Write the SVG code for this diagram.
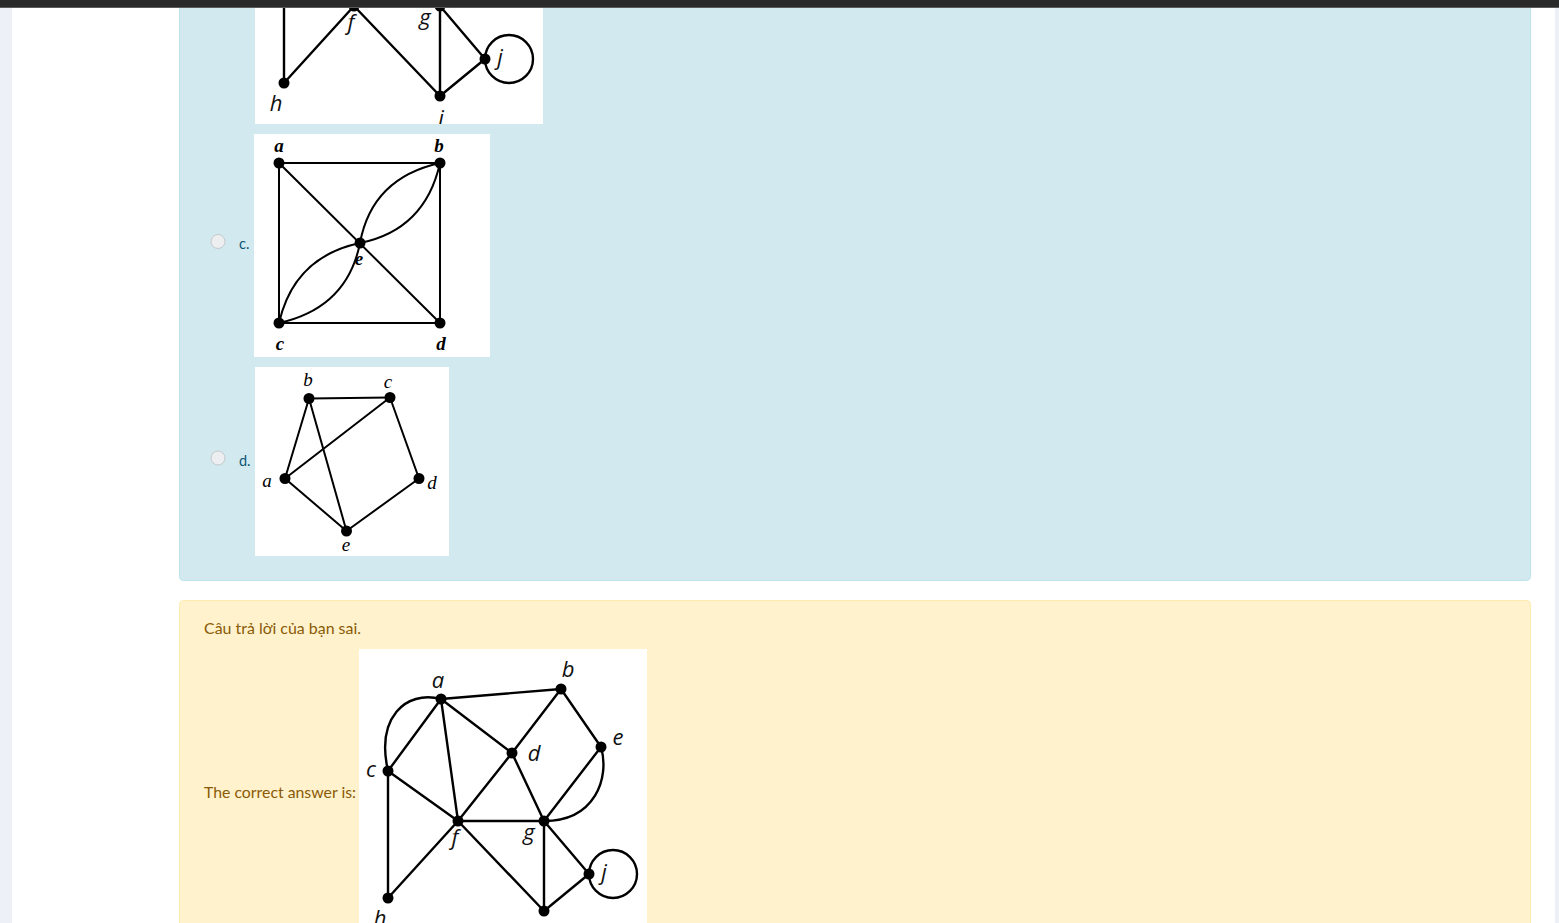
<svg xmlns="http://www.w3.org/2000/svg" xmlns:xlink="http://www.w3.org/1999/xlink" width="1559" height="923" viewBox="0 0 1559 923">
<style>
.ed{stroke:#000;stroke-width:2.4;fill:none;stroke-linecap:round}
.ed2{stroke:#000;stroke-width:2;fill:none;stroke-linecap:round}
.dot{fill:#000}
.lj{font-family:"Open Sans","Liberation Sans",sans-serif;font-style:italic;font-size:22px;fill:#111;text-anchor:middle}
.lc{font-family:"Liberation Serif",serif;font-style:italic;font-weight:bold;font-size:19px;fill:#000;text-anchor:middle}
.ld{font-family:"Liberation Serif",serif;font-style:italic;font-size:19px;fill:#000;text-anchor:middle}
.opt{font-family:Lato,"Liberation Sans",sans-serif;font-size:14.5px;fill:#0b5373}
.msg{font-family:Lato,"Liberation Sans",sans-serif;font-size:15px;fill:#8a5a06}
.radio{fill:#eceef0;stroke:#c4c8cc;stroke-width:1}
</style>
<defs>
<clipPath id="topclip"><rect x="255" y="0" width="288" height="124"/></clipPath>
</defs>
<!-- page background -->
<rect x="0" y="0" width="1559" height="923" fill="#fff"/>
<rect x="0" y="0" width="12" height="923" fill="#eef0f8"/>
<rect x="1555" y="0" width="4" height="923" fill="#eef0f8"/>
<!-- info panel -->
<rect x="179.5" y="-20" width="1351" height="600.5" rx="4" fill="#d2eaef" stroke="#bee3ea" stroke-width="1"/>
<!-- warning panel -->
<rect x="179.5" y="600.5" width="1351" height="340" rx="4" fill="#fff2cc" stroke="#ffebb0" stroke-width="1"/>

<!-- top cropped image (option b remainder) -->
<g id="option-b-image">
<rect x="255" y="0" width="288" height="124" fill="#fff"/>
<g clip-path="url(#topclip)">
<use xlink:href="#answer-graph" transform="translate(-104,-815)"/>
</g>
</g>

<!-- option c -->
<g id="option-c">
<circle class="radio" cx="218" cy="241.5" r="7"/>
<text class="opt" x="239" y="249">c.</text>
<rect x="254" y="134" width="236" height="223" fill="#fff"/>
<g id="c-edges">
<line class="ed2" x1="279" y1="163" x2="440" y2="163"/>
<line class="ed2" x1="279" y1="163" x2="279" y2="323"/>
<line class="ed2" x1="440" y1="163" x2="440" y2="323"/>
<line class="ed2" x1="279" y1="323" x2="440" y2="323"/>
<line class="ed2" x1="279" y1="163" x2="440" y2="323"/>
<path class="ed2" d="M360,243 Q372,178 440,163"/>
<path class="ed2" d="M360,243 Q425,230 440,163"/>
<path class="ed2" d="M279,323 Q294,257 360,243"/>
<path class="ed2" d="M279,323 Q347,308 360,243"/>
</g>
<g id="c-node-a"><circle class="dot" cx="279" cy="163" r="5.5"/><text class="lc" x="279" y="152">a</text></g>
<g id="c-node-b"><circle class="dot" cx="440" cy="163" r="5.5"/><text class="lc" x="439" y="152">b</text></g>
<g id="c-node-e"><circle class="dot" cx="360" cy="243" r="5.5"/><text class="lc" x="359" y="265">e</text></g>
<g id="c-node-c"><circle class="dot" cx="279" cy="323" r="5.5"/><text class="lc" x="280" y="350">c</text></g>
<g id="c-node-d"><circle class="dot" cx="440" cy="323" r="5.5"/><text class="lc" x="441" y="350">d</text></g>
</g>

<!-- option d -->
<g id="option-d">
<circle class="radio" cx="218" cy="458" r="7"/>
<text class="opt" x="239" y="466">d.</text>
<rect x="255" y="367" width="194" height="189" fill="#fff"/>
<g id="d-edges">
<line class="ed2" x1="309" y1="398.5" x2="390" y2="397.5"/>
<line class="ed2" x1="309" y1="398.5" x2="285" y2="478.5"/>
<line class="ed2" x1="309" y1="398.5" x2="346.5" y2="531"/>
<line class="ed2" x1="285" y1="478.5" x2="390" y2="397.5"/>
<line class="ed2" x1="390" y1="397.5" x2="419" y2="478.5"/>
<line class="ed2" x1="419" y1="478.5" x2="346.5" y2="531"/>
<line class="ed2" x1="285" y1="478.5" x2="346.5" y2="531"/>
</g>
<g id="d-node-b"><circle class="dot" cx="309" cy="398.5" r="5.5"/><text class="ld" x="308" y="386">b</text></g>
<g id="d-node-c"><circle class="dot" cx="390" cy="397.5" r="5.5"/><text class="ld" x="388" y="388">c</text></g>
<g id="d-node-a"><circle class="dot" cx="285" cy="478.5" r="5.5"/><text class="ld" x="267" y="487">a</text></g>
<g id="d-node-d"><circle class="dot" cx="419" cy="478.5" r="5.5"/><text class="ld" x="432" y="489">d</text></g>
<g id="d-node-e"><circle class="dot" cx="346.5" cy="531" r="5.5"/><text class="ld" x="346" y="551">e</text></g>
</g>

<!-- feedback -->
<text class="msg" x="204" y="634" textLength="157" lengthAdjust="spacingAndGlyphs">Câu trả lời của bạn sai.</text>
<text class="msg" x="204" y="798" textLength="152" lengthAdjust="spacingAndGlyphs">The correct answer is:</text>
<rect x="359" y="649" width="288" height="290" fill="#fff"/>

<g id="answer-graph">
<g id="answer-edges">
<line class="ed" x1="441" y1="699" x2="561" y2="689"/>
<line class="ed" x1="441" y1="699" x2="388" y2="771"/>
<path class="ed" d="M441,699 C405,690 376,718 388,771"/>
<line class="ed" x1="441" y1="699" x2="458" y2="821"/>
<line class="ed" x1="441" y1="699" x2="512" y2="753"/>
<line class="ed" x1="561" y1="689" x2="512" y2="753"/>
<line class="ed" x1="561" y1="689" x2="601" y2="747"/>
<line class="ed" x1="388" y1="771" x2="458" y2="821"/>
<line class="ed" x1="388" y1="771" x2="388" y2="898"/>
<line class="ed" x1="512" y1="753" x2="458" y2="821"/>
<line class="ed" x1="512" y1="753" x2="544" y2="821"/>
<line class="ed" x1="601" y1="747" x2="544" y2="821"/>
<path class="ed" d="M601,747 C610,778 595,821 544,821"/>
<line class="ed" x1="458" y1="821" x2="544" y2="821"/>
<line class="ed" x1="458" y1="821" x2="388" y2="898"/>
<line class="ed" x1="458" y1="821" x2="544" y2="911"/>
<line class="ed" x1="544" y1="821" x2="544" y2="911"/>
<line class="ed" x1="544" y1="821" x2="589" y2="874"/>
<line class="ed" x1="544" y1="911" x2="589" y2="874"/>
<circle class="ed" cx="613" cy="874" r="24"/>
</g>
<g id="node-a"><circle class="dot" cx="441" cy="699" r="5.5"/><text class="lj" x="438" y="688">a</text></g>
<g id="node-b"><circle class="dot" cx="561" cy="689" r="5.5"/><text class="lj" x="568" y="677">b</text></g>
<g id="node-c"><circle class="dot" cx="388" cy="771" r="5.5"/><text class="lj" x="371" y="777">c</text></g>
<g id="node-d"><circle class="dot" cx="512" cy="753" r="5.5"/><text class="lj" x="534" y="761">d</text></g>
<g id="node-e"><circle class="dot" cx="601" cy="747" r="5.5"/><text class="lj" x="618" y="745">e</text></g>
<g id="node-f"><circle class="dot" cx="458" cy="821" r="5.5"/><text class="lj" x="455" y="845">f</text></g>
<g id="node-g"><circle class="dot" cx="544" cy="821" r="5.5"/><text class="lj" x="529" y="840">g</text></g>
<g id="node-h"><circle class="dot" cx="388" cy="898" r="5.5"/><text class="lj" x="380" y="926">h</text></g>
<g id="node-i"><circle class="dot" cx="544" cy="911" r="5.5"/><text class="lj" x="545" y="941">i</text></g>
<g id="node-j"><circle class="dot" cx="589" cy="874" r="5.5"/><text class="lj" x="604" y="880">j</text></g>
</g>

<!-- top bar -->
<rect x="0" y="0" width="1559" height="7" fill="#2a2a2a"/>
<rect x="0" y="7" width="1559" height="1" fill="#5a5a5a"/>
</svg>
